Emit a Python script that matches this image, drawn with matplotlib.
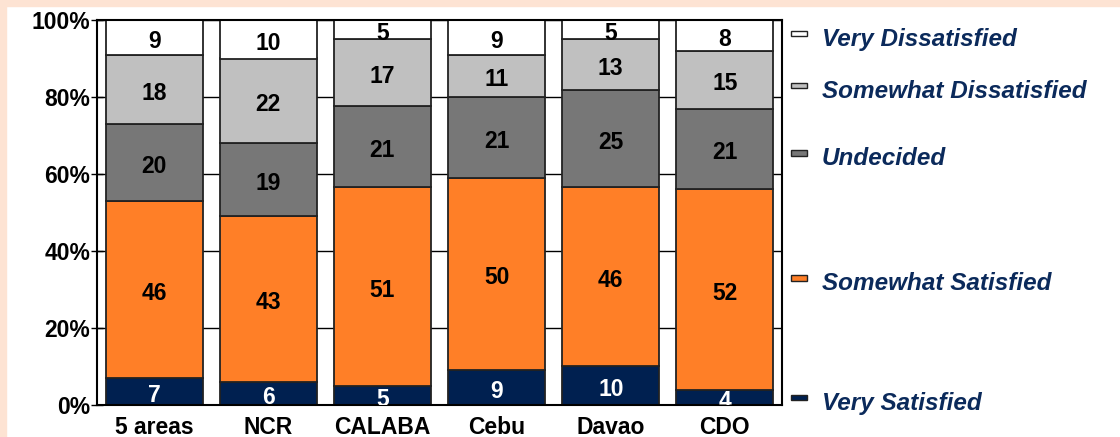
import numpy as np
import matplotlib
matplotlib.use('Agg')
import matplotlib.pyplot as plt
from matplotlib.patches import Rectangle

plt.rcParams['font.family'] = ['Liberation Sans', 'DejaVu Sans']

areas = ['5 areas', 'NCR', 'CALABA', 'Cebu', 'Davao', 'CDO']

# bottom to top
very_satisfied = [7, 6, 5, 9, 10, 4]
somewhat_satisfied = [46, 43, 51, 50, 46, 52]
undecided = [20, 19, 21, 21, 25, 21]
somewhat_dissatisfied = [18, 22, 17, 11, 13, 15]
very_dissatisfied = [9, 10, 5, 9, 5, 8]

series_names = ['Very Satisfied', 'Somewhat Satisfied', 'Undecided',
                'Somewhat Dissatisfied', 'Very Dissatisfied']
colors = ['#002050', '#FF7F27', '#777777', '#C0C0C0', '#FFFFFF']
text_colors = ['white', 'black', 'black', 'black', 'black']
legend_y = [2, 33, 65.5, 83, 96.5]

values = np.array([very_satisfied, somewhat_satisfied, undecided,
                   somewhat_dissatisfied, very_dissatisfied], dtype=float)
shares = values / values.sum(axis=0) * 100

fig = plt.figure(figsize=(11.2, 4.37), dpi=100)
fig.patches.append(Rectangle((0, 1 - 6 / 437), 1, 6 / 437, transform=fig.transFigure,
                             color='#FDE3D3', zorder=0))
fig.patches.append(Rectangle((0, 0), 6 / 1120, 1, transform=fig.transFigure,
                             color='#FDE3D3', zorder=0))

ax = fig.add_axes([97 / 1120, 32 / 437, 685 / 1120, 385 / 437])
x = np.arange(len(areas))
bottom = np.zeros(len(areas))
for i in range(len(series_names)):
    ax.bar(x, shares[i], 0.85, bottom=bottom, color=colors[i],
           edgecolor='#222222', linewidth=1.3, zorder=2)
    for j in range(len(areas)):
        ax.text(x[j], bottom[j] + shares[i][j] / 2 - 1, str(int(values[i][j])),
                ha='center', va='center', fontsize=16.5, fontweight='bold',
                color=text_colors[i], zorder=3, clip_on=True)
    bottom += shares[i]

ax.set_xlim(-0.5, len(areas) - 0.5)
ax.set_ylim(0, 100)
ax.set_yticks([0, 20, 40, 60, 80, 100])
ax.set_yticklabels(['0%', '20%', '40%', '60%', '80%', '100%'])
ax.set_xticks(x)
ax.set_xticklabels(areas)
ax.tick_params(axis='y', direction='inout', length=8, width=1, pad=1, labelsize=16.5)
ax.tick_params(axis='x', length=0, pad=8, labelsize=16.5)
for lbl in ax.get_xticklabels() + ax.get_yticklabels():
    lbl.set_fontweight('bold')
ax.yaxis.grid(True, color='black', linewidth=1, zorder=0)
ax.set_axisbelow(True)
for s in ax.spines.values():
    s.set_linewidth(1.5)

# legend drawn beside the last bar
trans = ax.get_yaxis_transform()
for i, name in enumerate(series_names):
    ax.add_patch(Rectangle((1.013, legend_y[i] - 0.7), 0.023, 1.4, transform=trans,
                           facecolor=colors[i], edgecolor='#222222', linewidth=1,
                           clip_on=False))
    ax.text(1.058, legend_y[i] - 1.5, name, transform=trans, ha='left', va='center',
            fontsize=17.5, fontweight='bold', fontstyle='italic', color='#0B2A5B')

plt.savefig('out.png', dpi=100)
